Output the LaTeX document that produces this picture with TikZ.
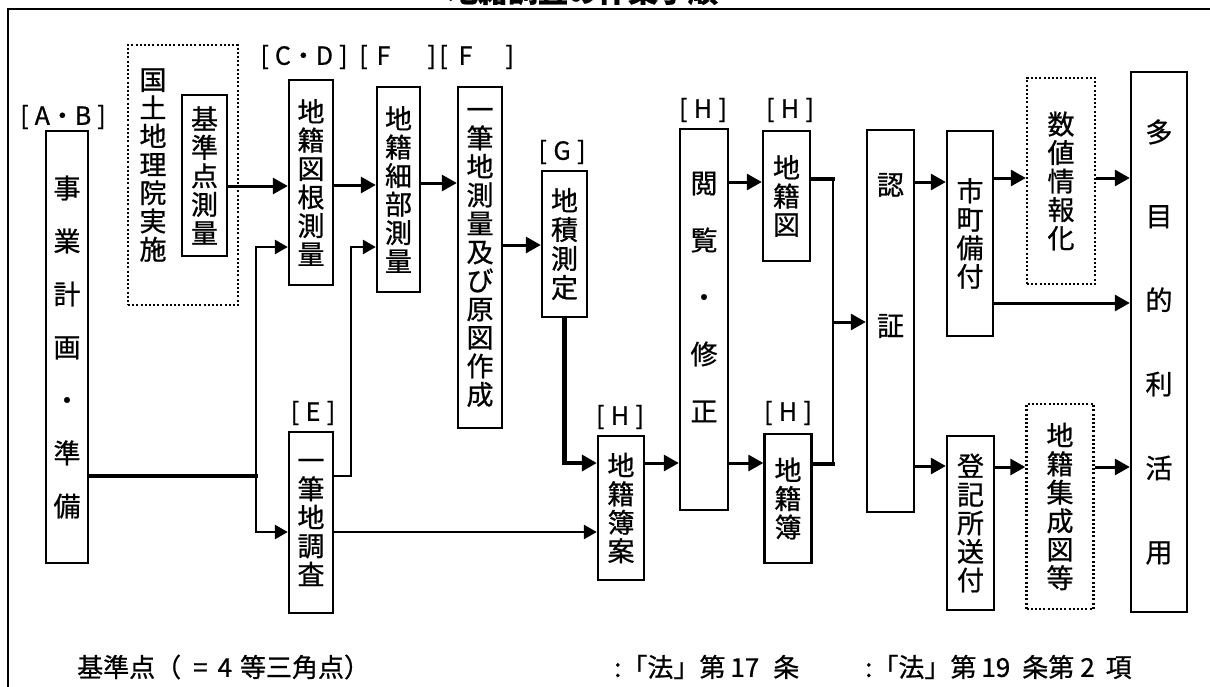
\documentclass[tikz,border=0pt]{standalone}
\usepackage{fontspec}
\newfontfamily\jp{Noto Sans CJK JP}[FakeBold=0.8]
\usetikzlibrary{arrows.meta}

\tikzset{
  box/.style={draw, line width=2.4pt, inner sep=0pt, align=center,
    font=\jp\fontsize{27}{28.5}\selectfont},
  dotbox/.style={box, dash pattern=on 2pt off 2.2pt},
  tag/.style={inner sep=0pt, font=\jp\fontsize{25}{28}\selectfont},
  note/.style={inner sep=0pt, anchor=west, font=\jp\fontsize{26}{28}\selectfont},
  headline/.style={inner sep=0pt, anchor=base, font=\jp\bfseries\fontsize{30}{30}\selectfont},
  flow/.style={line width=3pt, -{Triangle[length=15pt,width=16pt]}},
  thinflow/.style={line width=2.6pt, -{Triangle[length=13pt,width=14pt]}},
  bar/.style={line width=4.2pt, line cap=rect},
  rail/.style={line width=2.7pt},
}

\begin{document}
\begin{tikzpicture}[x=1pt, y=-1pt]
\useasboundingbox (0,0) rectangle (1210,686);
% frame and title
\draw[line width=2.6pt] (1212,9) -- (8,9) -- (8,690);
\node[headline] (title) at (583,2) {地籍調査の作業手順};

% steps
\node[box, minimum width=42pt, minimum height=432pt, font=\jp\fontsize{27}{53}\selectfont] (plan) at (67,347) {事\\業\\計\\画\\・\\準\\備};
\node[dotbox, minimum width=110pt, minimum height=260pt] (gsi) at (183,175) {};
\node[tag, align=center, font=\jp\fontsize{27}{28.3}\selectfont] (gsitxt) at (153,165) {国\\土\\地\\理\\院\\実\\施};
\node[box, minimum width=45pt, minimum height=161pt] (bench) at (204.5,175.5) {基\\準\\点\\測\\量};
\node[box, minimum width=44pt, minimum height=205pt] (root) at (311,182.5) {地\\籍\\図\\根\\測\\量};
\node[box, minimum width=43pt, minimum height=205pt] (detail) at (398.5,189.5) {地\\籍\\細\\部\\測\\量};
\node[box, minimum width=44pt, minimum height=341pt] (parcel) at (480,257.5) {一\\筆\\地\\測\\量\\及\\び\\原\\図\\作\\成};
\node[box, minimum width=45pt, minimum height=146pt, font=\jp\fontsize{27}{29}\selectfont] (area) at (564.5,244) {地\\積\\測\\定};
\node[box, minimum width=44pt, minimum height=181pt] (survey) at (311,522.5) {一\\筆\\地\\調\\査};
\node[box, minimum width=46pt, minimum height=144pt] (draft) at (621,508) {地\\籍\\簿\\案};
\node[box, minimum width=48pt, minimum height=381pt] (review) at (704,319.5) {};
\node[tag, align=center, font=\jp\fontsize{27}{57}\selectfont] (reviewtxt) at (704,297) {閲\\覧\\・\\修\\正};
\node[box, minimum width=47pt, minimum height=130pt] (map) at (786.5,196) {地\\籍\\図};
\node[box, minimum width=47pt, minimum height=129pt] (book) at (788,498.5) {地\\籍\\簿};
\node[box, minimum width=47pt, minimum height=382pt] (cert) at (890.5,321) {};
\node[tag, align=center, font=\jp\fontsize{27}{141}\selectfont] (certtxt) at (890.5,255.5) {認\\証};
\node[box, minimum width=46pt, minimum height=205pt] (keep) at (970,233.5) {市\\町\\備\\付};
\node[dotbox, minimum width=68pt, minimum height=206pt] (digit) at (1061,181) {数\\値\\情\\報\\化};
\node[box, minimum width=47pt, minimum height=174pt] (register) at (970.5,523) {登\\記\\所\\送\\付};
\node[dotbox, minimum width=67pt, minimum height=205pt] (compile) at (1060,506.5) {地\\籍\\集\\成\\図\\等};
\node[box, minimum width=56pt, minimum height=540pt, font=\jp\fontsize{27}{84}\selectfont] (use) at (1159,342) {多\\目\\的\\利\\活\\用};

% step tags
\node[tag] (tagab) at (63,117) {[\hspace{6pt}A・B\hspace{6pt}]};
\node[tag] (tagcd) at (304,57) {[\hspace{6pt}C・D\hspace{6pt}]};
\node[tag, anchor=west] (tagfa) at (359,57) {[\hspace{9pt}F\hspace{37pt}]};
\node[tag, anchor=west] (tagfb) at (439,57) {[\hspace{11pt}F\hspace{33pt}]};
\node[tag] (tagg) at (562,152) {[\hspace{6.5pt}G\hspace{6.5pt}]};
\node[tag] (taghreview) at (703,110) {[\hspace{6.5pt}H\hspace{6.5pt}]};
\node[tag] (taghmap) at (790,110) {[\hspace{6.5pt}H\hspace{6.5pt}]};
\node[tag] (tage) at (313,413) {[\hspace{6.5pt}E\hspace{6.5pt}]};
\node[tag] (taghdraft) at (620,417) {[\hspace{6.5pt}H\hspace{6.5pt}]};
\node[tag] (taghbook) at (788,413) {[\hspace{6.5pt}H\hspace{6.5pt}]};

% notes
\node[note] (notea) at (77,667) {基準点（\hspace{12pt}=\hspace{10pt}4\hspace{8pt}等三角点）};
\node[note] (noteb) at (614,667) {:「法」第\hspace{5pt}17\hspace{14pt}条};
\node[note] (notec) at (865,667) {:「法」第\hspace{5pt}19\hspace{12pt}条第\hspace{6pt}2\hspace{11pt}項};

% upper flow
\draw[flow] (bench.east |- 0,186) -- (root.west |- 0,186);
\draw[flow] (root.east |- 0,185) -- (detail.west |- 0,185);
\draw[flow] (detail.east |- 0,183) -- (parcel.west |- 0,183);
\draw[flow] (parcel.east |- 0,245) -- (area.west |- 0,245);

% from planning
\coordinate (split) at (256,476);
\draw[bar] (plan.east |- split) -- (split);
\draw[thinflow] (split) |- (root.west |- 0,247);
\draw[thinflow] (split) |- (survey.west |- 0,532);
\coordinate (hop) at (351,476);
\draw[thinflow] (survey.east |- hop) -- (hop) |- (detail.west |- 0,247);
\draw[thinflow] (survey.east |- 0,532) -- (draft.west |- 0,532);

% lower flow
\draw[bar, line cap=butt, -{Triangle[length=15pt,width=16pt]}] (area.south) |- (draft.west |- 0,463);
\draw[flow] (draft.east |- 0,463) -- (review.west |- 0,463);
\draw[flow] (review.east |- 0,182) -- (map.west |- 0,182);
\draw[flow] (review.east |- 0,463) -- (book.west |- 0,463);

% to certification
\coordinate (merge) at (833,322);
\draw[bar] (map.east |- 0,179) -- (merge |- 0,179);
\draw[bar] (book.east |- 0,464) -- (merge |- 0,464);
\draw[rail] (merge |- 0,179) -- (merge |- 0,464);
\draw[flow] (merge) -- (cert.west |- merge);

% after certification
\draw[flow] (cert.east |- 0,182) -- (keep.west |- 0,182);
\draw[flow] (cert.east |- 0,466) -- (register.west |- 0,466);
\draw[flow] (keep.east |- 0,178) -- (digit.west |- 0,178);
\draw[flow] (digit.east |- 0,178) -- (use.west |- 0,178);
\draw[flow] (keep.east |- 0,303) -- (use.west |- 0,303);
\draw[flow] (register.east |- 0,467) -- (compile.west |- 0,467);
\draw[flow] (compile.east |- 0,467) -- (use.west |- 0,467);
\end{tikzpicture}
\end{document}
